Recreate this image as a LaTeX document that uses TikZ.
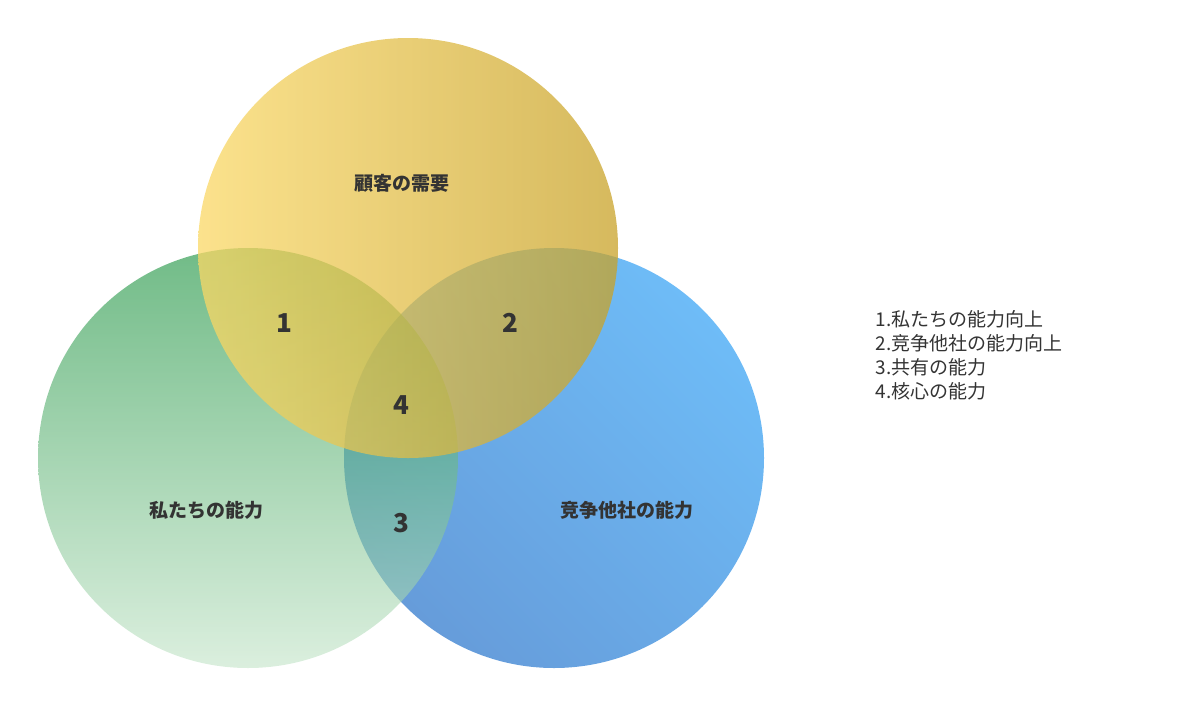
\documentclass[tikz,border=0pt]{standalone}
\usepackage{fontspec}
\setmainfont{Noto Sans CJK JP}

\definecolor{textgray}{RGB}{51,51,51}
\definecolor{blueA}{RGB}{110,188,247}
\definecolor{blueB}{RGB}{102,156,218}
\definecolor{greenA}{RGB}{18,142,55}
\definecolor{greenB}{RGB}{195,228,200}
\definecolor{yellowA}{RGB}{250,216,102}
\definecolor{yellowB}{RGB}{200,162,40}

\begin{document}
\begin{tikzpicture}[x=1pt,y=-1pt,
		circlelabel/.style={font=\bfseries\fontsize{19}{23}\selectfont, text=textgray},
		regionnum/.style={font=\bfseries\fontsize{26}{30}\selectfont, text=textgray},
		legendtext/.style={font=\fontsize{19}{24}\selectfont, text=textgray, align=left, anchor=north west}]
			
			% Fix the picture size
			\useasboundingbox (0,0) rectangle (1196,705);
			
			% Draw the three circles
			\shade[top color=blueA, bottom color=blueB, shading angle=-45] (554,458) circle (210pt); % Competitors
			\shade[top color=greenA, bottom color=greenB, opacity=0.6] (248,458) circle (210pt);  % Us
			\shade[left color=yellowA, right color=yellowB, opacity=0.75] (408,248) circle (210pt); % Customers
			
			% Circle labels
			\node[circlelabel] (customers) at (402,183) {顧客の需要};
			\node[circlelabel] (us) at (206,510) {私たちの能力};
			\node[circlelabel] (rivals) at (627,510) {竞争他社の能力};
			
			% Region numbers
			\node[regionnum] (r1) at (284,323) {1};
			\node[regionnum] (r2) at (510,323) {2};
			\node[regionnum] (r4) at (401,405) {4};
			\node[regionnum] (r3) at (401,523) {3};
			
			% Legend
			\node[legendtext] (legend) at (872,307) {1.私たちの能力向上\\2.竞争他社の能力向上\\3.共有の能力\\4.核心の能力};
			
		\end{tikzpicture}
\end{document}
